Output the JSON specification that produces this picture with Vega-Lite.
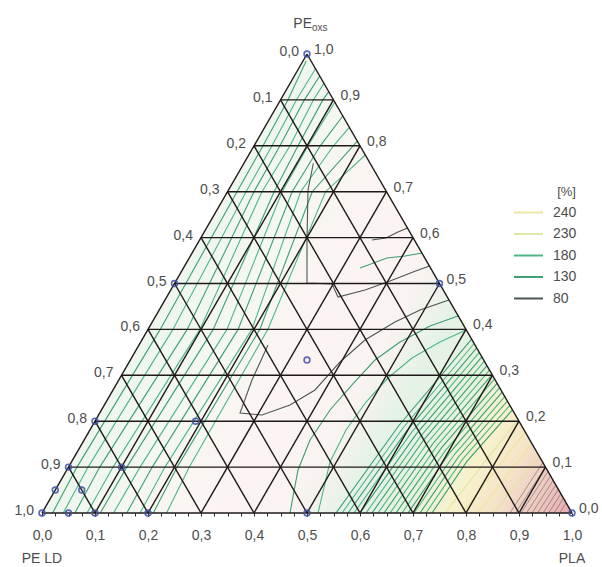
{
  "$schema": "https://vega.github.io/schema/vega-lite/v6.json",
  "width": 530,
  "height": 459,
  "autosize": {"type": "none"},
  "padding": {"left": 42, "top": 54, "right": 30, "bottom": 54},
  "background": "white",
  "config": {"view": {"stroke": null}, "font": "Liberation Sans"},
  "datasets": {
    "tri": [{"x": 0, "y": 0}, {"x": 0.5, "y": 1}, {"x": 1, "y": 0}],
    "grid": [
      {"x": 0, "y": 0, "x2": 1, "y2": 0},
      {"x": 0, "y": 0, "x2": 0.5, "y2": 1},
      {"x": 1, "y": 0, "x2": 0.5, "y2": 1},
      {"x": 0.05, "y": 0.1, "x2": 0.95, "y2": 0.1},
      {"x": 0.1, "y": 0.2, "x2": 0.9, "y2": 0.2},
      {"x": 0.15, "y": 0.3, "x2": 0.85, "y2": 0.3},
      {"x": 0.2, "y": 0.4, "x2": 0.8, "y2": 0.4},
      {"x": 0.25, "y": 0.5, "x2": 0.75, "y2": 0.5},
      {"x": 0.3, "y": 0.6, "x2": 0.7, "y2": 0.6},
      {"x": 0.35, "y": 0.7, "x2": 0.65, "y2": 0.7},
      {"x": 0.4, "y": 0.8, "x2": 0.6, "y2": 0.8},
      {"x": 0.45, "y": 0.9, "x2": 0.55, "y2": 0.9},
      {"x": 0.1, "y": 0, "x2": 0.55, "y2": 0.9},
      {"x": 0.2, "y": 0, "x2": 0.6, "y2": 0.8},
      {"x": 0.3, "y": 0, "x2": 0.65, "y2": 0.7},
      {"x": 0.4, "y": 0, "x2": 0.7, "y2": 0.6},
      {"x": 0.5, "y": 0, "x2": 0.75, "y2": 0.5},
      {"x": 0.6, "y": 0, "x2": 0.8, "y2": 0.4},
      {"x": 0.7, "y": 0, "x2": 0.85, "y2": 0.3},
      {"x": 0.8, "y": 0, "x2": 0.9, "y2": 0.2},
      {"x": 0.9, "y": 0, "x2": 0.95, "y2": 0.1},
      {"x": 0.1, "y": 0, "x2": 0.05, "y2": 0.1},
      {"x": 0.2, "y": 0, "x2": 0.1, "y2": 0.2},
      {"x": 0.3, "y": 0, "x2": 0.15, "y2": 0.3},
      {"x": 0.4, "y": 0, "x2": 0.2, "y2": 0.4},
      {"x": 0.5, "y": 0, "x2": 0.25, "y2": 0.5},
      {"x": 0.6, "y": 0, "x2": 0.3, "y2": 0.6},
      {"x": 0.7, "y": 0, "x2": 0.35, "y2": 0.7},
      {"x": 0.8, "y": 0, "x2": 0.4, "y2": 0.8},
      {"x": 0.9, "y": 0, "x2": 0.45, "y2": 0.9}
    ],
    "pts": [
      {"x": 0, "y": 0}, {"x": 0.05, "y": 0}, {"x": 0.1, "y": 0}, {"x": 0.2, "y": 0},
      {"x": 0.5, "y": 0}, {"x": 1, "y": 0}, {"x": 0.5, "y": 1}, {"x": 0.25, "y": 0.5},
      {"x": 0.75, "y": 0.5}, {"x": 0.05, "y": 0.1}, {"x": 0.025, "y": 0.05}, {"x": 0.075, "y": 0.05},
      {"x": 0.15, "y": 0.1}, {"x": 0.1, "y": 0.2}, {"x": 0.29, "y": 0.2}, {"x": 0.5, "y": 0.3333}
    ],
    "lblL": [
      {"t": "1,0", "x": 0, "y": 0}, {"t": "0,9", "x": 0.05, "y": 0.1}, {"t": "0,8", "x": 0.1, "y": 0.2},
      {"t": "0,7", "x": 0.15, "y": 0.3}, {"t": "0,6", "x": 0.2, "y": 0.4}, {"t": "0,5", "x": 0.25, "y": 0.5},
      {"t": "0,4", "x": 0.3, "y": 0.6}, {"t": "0,3", "x": 0.35, "y": 0.7}, {"t": "0,2", "x": 0.4, "y": 0.8},
      {"t": "0,1", "x": 0.45, "y": 0.9}, {"t": "0,0", "x": 0.5, "y": 1}
    ],
    "lblR": [
      {"t": "0,0", "x": 1, "y": 0}, {"t": "0,1", "x": 0.95, "y": 0.1}, {"t": "0,2", "x": 0.9, "y": 0.2},
      {"t": "0,3", "x": 0.85, "y": 0.3}, {"t": "0,4", "x": 0.8, "y": 0.4}, {"t": "0,5", "x": 0.75, "y": 0.5},
      {"t": "0,6", "x": 0.7, "y": 0.6}, {"t": "0,7", "x": 0.65, "y": 0.7}, {"t": "0,8", "x": 0.6, "y": 0.8},
      {"t": "0,9", "x": 0.55, "y": 0.9}, {"t": "1,0", "x": 0.5, "y": 1}
    ],
    "corner": [{"t": "PE LD", "x": 0, "y": 0}, {"t": "PLA", "x": 1, "y": 0}],
    "apexMain": [{"t": "PE", "x": 0.5, "y": 1}],
    "apexSub": [{"t": "oxs", "x": 0.5, "y": 1}],
    "iso": [
      {"c": "A1", "lv": "130", "o": 1, "x": 0.020, "y": 0},
      {"c": "A1", "lv": "130", "o": 2, "x": 0.066, "y": 0.1},
      {"c": "A1", "lv": "130", "o": 3, "x": 0.223, "y": 0.4},
      {"c": "A1", "lv": "130", "o": 4, "x": 0.368, "y": 0.7},
      {"c": "A1", "lv": "130", "o": 5, "x": 0.417, "y": 0.8},
      {"c": "A1", "lv": "130", "o": 6, "x": 0.464, "y": 0.9},
      {"c": "A1", "lv": "130", "o": 7, "x": 0.4985, "y": 0.985},
      {"c": "A2", "lv": "180", "o": 1, "x": 0.040, "y": 0},
      {"c": "A2", "lv": "180", "o": 2, "x": 0.087, "y": 0.1},
      {"c": "A2", "lv": "180", "o": 3, "x": 0.247, "y": 0.4},
      {"c": "A2", "lv": "180", "o": 4, "x": 0.385, "y": 0.7},
      {"c": "A2", "lv": "180", "o": 5, "x": 0.434, "y": 0.8},
      {"c": "A2", "lv": "180", "o": 6, "x": 0.480, "y": 0.9},
      {"c": "A2", "lv": "180", "o": 7, "x": 0.516, "y": 0.968},
      {"c": "A3", "lv": "130", "o": 1, "x": 0.062, "y": 0},
      {"c": "A3", "lv": "130", "o": 2, "x": 0.109, "y": 0.1},
      {"c": "A3", "lv": "130", "o": 3, "x": 0.274, "y": 0.4},
      {"c": "A3", "lv": "130", "o": 4, "x": 0.400, "y": 0.7},
      {"c": "A3", "lv": "130", "o": 5, "x": 0.449, "y": 0.8},
      {"c": "A3", "lv": "130", "o": 6, "x": 0.495, "y": 0.9},
      {"c": "A3", "lv": "130", "o": 7, "x": 0.524, "y": 0.952},
      {"c": "A4", "lv": "180", "o": 1, "x": 0.085, "y": 0},
      {"c": "A4", "lv": "180", "o": 2, "x": 0.134, "y": 0.1},
      {"c": "A4", "lv": "180", "o": 3, "x": 0.298, "y": 0.4},
      {"c": "A4", "lv": "180", "o": 4, "x": 0.415, "y": 0.7},
      {"c": "A4", "lv": "180", "o": 5, "x": 0.468, "y": 0.8},
      {"c": "A4", "lv": "180", "o": 6, "x": 0.512, "y": 0.9},
      {"c": "A4", "lv": "180", "o": 7, "x": 0.532, "y": 0.936},
      {"c": "A5", "lv": "130", "o": 1, "x": 0.110, "y": 0},
      {"c": "A5", "lv": "130", "o": 2, "x": 0.160, "y": 0.1},
      {"c": "A5", "lv": "130", "o": 3, "x": 0.323, "y": 0.4},
      {"c": "A5", "lv": "130", "o": 4, "x": 0.438, "y": 0.7},
      {"c": "A5", "lv": "130", "o": 5, "x": 0.483, "y": 0.8},
      {"c": "A5", "lv": "130", "o": 6, "x": 0.530, "y": 0.9},
      {"c": "A5", "lv": "130", "o": 7, "x": 0.541, "y": 0.918},
      {"c": "A6", "lv": "180", "o": 1, "x": 0.135, "y": 0},
      {"c": "A6", "lv": "180", "o": 2, "x": 0.185, "y": 0.1},
      {"c": "A6", "lv": "180", "o": 3, "x": 0.349, "y": 0.4},
      {"c": "A6", "lv": "180", "o": 4, "x": 0.453, "y": 0.7},
      {"c": "A6", "lv": "180", "o": 5, "x": 0.502, "y": 0.8},
      {"c": "A6", "lv": "180", "o": 6, "x": 0.5525, "y": 0.895},
      {"c": "A7", "lv": "130", "o": 1, "x": 0.160, "y": 0},
      {"c": "A7", "lv": "130", "o": 2, "x": 0.208, "y": 0.1},
      {"c": "A7", "lv": "130", "o": 3, "x": 0.370, "y": 0.4},
      {"c": "A7", "lv": "130", "o": 4, "x": 0.472, "y": 0.7},
      {"c": "A7", "lv": "130", "o": 5, "x": 0.525, "y": 0.8},
      {"c": "A7", "lv": "130", "o": 6, "x": 0.5675, "y": 0.865},
      {"c": "A8", "lv": "180", "o": 1, "x": 0.185, "y": 0},
      {"c": "A8", "lv": "180", "o": 2, "x": 0.232, "y": 0.1},
      {"c": "A8", "lv": "180", "o": 3, "x": 0.396, "y": 0.4},
      {"c": "A8", "lv": "180", "o": 4, "x": 0.488, "y": 0.7},
      {"c": "A8", "lv": "180", "o": 5, "x": 0.550, "y": 0.8},
      {"c": "A8", "lv": "180", "o": 6, "x": 0.580, "y": 0.84},
      {"c": "A9", "lv": "130", "o": 1, "x": 0.210, "y": 0},
      {"c": "A9", "lv": "130", "o": 2, "x": 0.255, "y": 0.1},
      {"c": "A9", "lv": "130", "o": 3, "x": 0.411, "y": 0.4},
      {"c": "A9", "lv": "130", "o": 4, "x": 0.510, "y": 0.7},
      {"c": "A9", "lv": "130", "o": 5, "x": 0.595, "y": 0.81},
      {"c": "A10", "lv": "180", "o": 1, "x": 0.235, "y": 0},
      {"c": "A10", "lv": "180", "o": 2, "x": 0.278, "y": 0.1},
      {"c": "A10", "lv": "180", "o": 3, "x": 0.426, "y": 0.4},
      {"c": "A10", "lv": "180", "o": 4, "x": 0.535, "y": 0.7},
      {"c": "A10", "lv": "180", "o": 5, "x": 0.610, "y": 0.78},
      {"c": "M1", "lv": "80", "o": 1, "x": 0.512, "y": 0.762},
      {"c": "M1", "lv": "80", "o": 2, "x": 0.5019, "y": 0.7037},
      {"c": "M1", "lv": "80", "o": 3, "x": 0.5, "y": 0.5948},
      {"c": "M1", "lv": "80", "o": 4, "x": 0.5, "y": 0.5011},
      {"c": "M1", "lv": "80", "o": 5, "x": 0.5472, "y": 0.4989},
      {"c": "M1", "lv": "80", "o": 6, "x": 0.5585, "y": 0.4706},
      {"c": "M1", "lv": "80", "o": 7, "x": 0.6094, "y": 0.4858},
      {"c": "M1", "lv": "80", "o": 8, "x": 0.6566, "y": 0.5054},
      {"c": "M1", "lv": "80", "o": 9, "x": 0.7000, "y": 0.5251},
      {"c": "M1", "lv": "80", "o": 10, "x": 0.7311, "y": 0.5381},
      {"c": "M2", "lv": "80", "o": 1, "x": 0.6226, "y": 0.5948},
      {"c": "M2", "lv": "80", "o": 2, "x": 0.6491, "y": 0.5991},
      {"c": "M2", "lv": "80", "o": 3, "x": 0.6717, "y": 0.6122},
      {"c": "M2", "lv": "80", "o": 4, "x": 0.6898, "y": 0.6209},
      {"c": "M3", "lv": "130", "o": 1, "x": 0.6, "y": 0.5338},
      {"c": "M3", "lv": "130", "o": 2, "x": 0.6509, "y": 0.5556},
      {"c": "M3", "lv": "130", "o": 3, "x": 0.6849, "y": 0.5599},
      {"c": "M3", "lv": "130", "o": 4, "x": 0.7170, "y": 0.5664},
      {"c": "C0", "lv": "80", "o": 1, "x": 0.7679, "y": 0.4641},
      {"c": "C0", "lv": "80", "o": 2, "x": 0.7132, "y": 0.4423},
      {"c": "C0", "lv": "80", "o": 3, "x": 0.6660, "y": 0.4161},
      {"c": "C0", "lv": "80", "o": 4, "x": 0.6094, "y": 0.3769},
      {"c": "C0", "lv": "80", "o": 5, "x": 0.5623, "y": 0.3290},
      {"c": "C0", "lv": "80", "o": 6, "x": 0.5151, "y": 0.2680},
      {"c": "C0", "lv": "80", "o": 7, "x": 0.4679, "y": 0.2353},
      {"c": "C0", "lv": "80", "o": 8, "x": 0.4151, "y": 0.2135},
      {"c": "C0", "lv": "80", "o": 9, "x": 0.3736, "y": 0.2179},
      {"c": "C0", "lv": "80", "o": 10, "x": 0.3962, "y": 0.2898},
      {"c": "C0", "lv": "80", "o": 11, "x": 0.4264, "y": 0.3660},
      {"c": "C1", "lv": "130", "o": 1, "x": 0.7849, "y": 0.4292},
      {"c": "C1", "lv": "130", "o": 2, "x": 0.7321, "y": 0.4074},
      {"c": "C1", "lv": "130", "o": 3, "x": 0.6755, "y": 0.3725},
      {"c": "C1", "lv": "130", "o": 4, "x": 0.6283, "y": 0.3333},
      {"c": "C1", "lv": "130", "o": 5, "x": 0.5849, "y": 0.2789},
      {"c": "C1", "lv": "130", "o": 6, "x": 0.5434, "y": 0.2244},
      {"c": "C1", "lv": "130", "o": 7, "x": 0.5057, "y": 0.1590},
      {"c": "C1", "lv": "130", "o": 8, "x": 0.4830, "y": 0.0937},
      {"c": "C1", "lv": "130", "o": 9, "x": 0.4679, "y": 0},
      {"c": "C2", "lv": "180", "o": 1, "x": 0.8000, "y": 0.3987},
      {"c": "C2", "lv": "180", "o": 2, "x": 0.7509, "y": 0.3725},
      {"c": "C2", "lv": "180", "o": 3, "x": 0.6981, "y": 0.3377},
      {"c": "C2", "lv": "180", "o": 4, "x": 0.6528, "y": 0.2941},
      {"c": "C2", "lv": "180", "o": 5, "x": 0.6113, "y": 0.2418},
      {"c": "C2", "lv": "180", "o": 6, "x": 0.5736, "y": 0.1808},
      {"c": "C2", "lv": "180", "o": 7, "x": 0.5434, "y": 0.1111},
      {"c": "C2", "lv": "180", "o": 8, "x": 0.5208, "y": 0},
      {"c": "B0", "lv": "130", "o": 1, "x": 0.5547, "y": 0},
      {"c": "B0", "lv": "130", "o": 2, "x": 0.6727, "y": 0.1895},
      {"c": "B0", "lv": "130", "o": 3, "x": 0.8106, "y": 0.3789},
      {"c": "B1", "lv": "180", "o": 1, "x": 0.5660, "y": 0},
      {"c": "B1", "lv": "180", "o": 2, "x": 0.6807, "y": 0.1847},
      {"c": "B1", "lv": "180", "o": 3, "x": 0.8154, "y": 0.3693},
      {"c": "B2", "lv": "130", "o": 1, "x": 0.5774, "y": 0},
      {"c": "B2", "lv": "130", "o": 2, "x": 0.6888, "y": 0.1799},
      {"c": "B2", "lv": "130", "o": 3, "x": 0.8202, "y": 0.3597},
      {"c": "B3", "lv": "180", "o": 1, "x": 0.5887, "y": 0},
      {"c": "B3", "lv": "180", "o": 2, "x": 0.6969, "y": 0.1750},
      {"c": "B3", "lv": "180", "o": 3, "x": 0.8251, "y": 0.3499},
      {"c": "B4", "lv": "130", "o": 1, "x": 0.6000, "y": 0},
      {"c": "B4", "lv": "130", "o": 2, "x": 0.7050, "y": 0.1702},
      {"c": "B4", "lv": "130", "o": 3, "x": 0.8299, "y": 0.3403},
      {"c": "B5", "lv": "180", "o": 1, "x": 0.6113, "y": 0},
      {"c": "B5", "lv": "180", "o": 2, "x": 0.7130, "y": 0.1654},
      {"c": "B5", "lv": "180", "o": 3, "x": 0.8347, "y": 0.3307},
      {"c": "B6", "lv": "130", "o": 1, "x": 0.6226, "y": 0},
      {"c": "B6", "lv": "130", "o": 2, "x": 0.7211, "y": 0.1606},
      {"c": "B6", "lv": "130", "o": 3, "x": 0.8395, "y": 0.3211},
      {"c": "B7", "lv": "180", "o": 1, "x": 0.6340, "y": 0},
      {"c": "B7", "lv": "180", "o": 2, "x": 0.7292, "y": 0.1558},
      {"c": "B7", "lv": "180", "o": 3, "x": 0.8443, "y": 0.3115},
      {"c": "B8", "lv": "130", "o": 1, "x": 0.6453, "y": 0},
      {"c": "B8", "lv": "130", "o": 2, "x": 0.7373, "y": 0.1509},
      {"c": "B8", "lv": "130", "o": 3, "x": 0.8492, "y": 0.3017},
      {"c": "B9", "lv": "180", "o": 1, "x": 0.6566, "y": 0},
      {"c": "B9", "lv": "180", "o": 2, "x": 0.7453, "y": 0.1461},
      {"c": "B9", "lv": "180", "o": 3, "x": 0.8539, "y": 0.2922},
      {"c": "B10", "lv": "130", "o": 1, "x": 0.6679, "y": 0},
      {"c": "B10", "lv": "130", "o": 2, "x": 0.7533, "y": 0.1413},
      {"c": "B10", "lv": "130", "o": 3, "x": 0.8587, "y": 0.2826},
      {"c": "B11", "lv": "180", "o": 1, "x": 0.6792, "y": 0},
      {"c": "B11", "lv": "180", "o": 2, "x": 0.7614, "y": 0.1365},
      {"c": "B11", "lv": "180", "o": 3, "x": 0.8635, "y": 0.2730},
      {"c": "B12", "lv": "130", "o": 1, "x": 0.6906, "y": 0},
      {"c": "B12", "lv": "130", "o": 2, "x": 0.7695, "y": 0.1317},
      {"c": "B12", "lv": "130", "o": 3, "x": 0.8683, "y": 0.2634},
      {"c": "B13", "lv": "180", "o": 1, "x": 0.7019, "y": 0},
      {"c": "B13", "lv": "180", "o": 2, "x": 0.7776, "y": 0.1268},
      {"c": "B13", "lv": "180", "o": 3, "x": 0.8732, "y": 0.2536},
      {"c": "B14", "lv": "130", "o": 1, "x": 0.7132, "y": 0},
      {"c": "B14", "lv": "130", "o": 2, "x": 0.7856, "y": 0.1220},
      {"c": "B14", "lv": "130", "o": 3, "x": 0.8780, "y": 0.2440},
      {"c": "B15", "lv": "180", "o": 1, "x": 0.7245, "y": 0},
      {"c": "B15", "lv": "180", "o": 2, "x": 0.7937, "y": 0.1172},
      {"c": "B15", "lv": "180", "o": 3, "x": 0.8828, "y": 0.2344},
      {"c": "B16", "lv": "130", "o": 1, "x": 0.7358, "y": 0},
      {"c": "B16", "lv": "130", "o": 2, "x": 0.8017, "y": 0.1124},
      {"c": "B16", "lv": "130", "o": 3, "x": 0.8876, "y": 0.2248},
      {"c": "Y1", "lv": "230", "o": 1, "x": 0.7604, "y": 0},
      {"c": "Y1", "lv": "230", "o": 2, "x": 0.8980, "y": 0.2039},
      {"c": "Y2", "lv": "240", "o": 1, "x": 0.7925, "y": 0},
      {"c": "Y2", "lv": "240", "o": 2, "x": 0.9117, "y": 0.1767},
      {"c": "Y3", "lv": "240", "o": 1, "x": 0.8226, "y": 0},
      {"c": "Y3", "lv": "240", "o": 2, "x": 0.9245, "y": 0.1510},
      {"c": "Y4", "lv": "230", "o": 1, "x": 0.8528, "y": 0},
      {"c": "Y4", "lv": "230", "o": 2, "x": 0.9374, "y": 0.1253},
      {"c": "R0", "lv": "80", "o": 1, "x": 0.8830, "y": 0},
      {"c": "R0", "lv": "80", "o": 2, "x": 0.9450, "y": 0.1100},
      {"c": "R1", "lv": "80", "o": 1, "x": 0.8934, "y": 0},
      {"c": "R1", "lv": "80", "o": 2, "x": 0.9499, "y": 0.1002},
      {"c": "R2", "lv": "80", "o": 1, "x": 0.9038, "y": 0},
      {"c": "R2", "lv": "80", "o": 2, "x": 0.9547, "y": 0.0906},
      {"c": "R3", "lv": "80", "o": 1, "x": 0.9142, "y": 0},
      {"c": "R3", "lv": "80", "o": 2, "x": 0.9596, "y": 0.0808},
      {"c": "R4", "lv": "80", "o": 1, "x": 0.9245, "y": 0},
      {"c": "R4", "lv": "80", "o": 2, "x": 0.9645, "y": 0.0710},
      {"c": "R5", "lv": "80", "o": 1, "x": 0.9349, "y": 0},
      {"c": "R5", "lv": "80", "o": 2, "x": 0.9694, "y": 0.0612},
      {"c": "R6", "lv": "80", "o": 1, "x": 0.9453, "y": 0},
      {"c": "R6", "lv": "80", "o": 2, "x": 0.9743, "y": 0.0514},
      {"c": "R7", "lv": "80", "o": 1, "x": 0.9557, "y": 0},
      {"c": "R7", "lv": "80", "o": 2, "x": 0.9791, "y": 0.0418},
      {"c": "R8", "lv": "80", "o": 1, "x": 0.9660, "y": 0},
      {"c": "R8", "lv": "80", "o": 2, "x": 0.9840, "y": 0.0320},
      {"c": "R9", "lv": "80", "o": 1, "x": 0.9764, "y": 0},
      {"c": "R9", "lv": "80", "o": 2, "x": 0.9889, "y": 0.0222}
    ]
  },
  "encoding": {
    "x": {
      "field": "x",
      "type": "quantitative",
      "scale": {"domain": [0, 1], "nice": false, "zero": false},
      "axis": {
        "title": null,
        "domain": false,
        "grid": false,
        "values": [0, 0.025, 0.05, 0.075, 0.1, 0.125, 0.15, 0.175, 0.2, 0.225, 0.25, 0.275, 0.3, 0.325, 0.35, 0.375, 0.4, 0.425, 0.45, 0.475, 0.5, 0.525, 0.55, 0.575, 0.6, 0.625, 0.65, 0.675, 0.7, 0.725, 0.75, 0.775, 0.8, 0.825, 0.85, 0.875, 0.9, 0.925, 0.95, 0.975, 1],
        "labelExpr": "abs(datum.value * 10 - round(datum.value * 10)) < 0.001 ? replace(format(datum.value, '.1f'), '.', ',') : ''",
        "tickSize": 3,
        "tickColor": "#2a2a2a",
        "tickWidth": 1,
        "labelFont": "Liberation Sans",
        "labelFontSize": 14,
        "labelColor": "#4d4d4d",
        "labelPadding": 12,
        "labelFlush": false,
        "labelOverlap": false
      }
    },
    "y": {
      "field": "y",
      "type": "quantitative",
      "scale": {"domain": [0, 1], "nice": false, "zero": false},
      "axis": null
    }
  },
  "layer": [
    {
      "data": {"name": "tri"},
      "mark": {
        "type": "area",
        "color": {
          "gradient": "linear",
          "x1": 0, "y1": 0.5, "x2": 1, "y2": 0.97,
          "stops": [
            {"offset": 0, "color": "#eef6ee"},
            {"offset": 0.2, "color": "#eef6ee"},
            {"offset": 0.33, "color": "#f6f7f1"},
            {"offset": 0.45, "color": "#fcf4f3"},
            {"offset": 0.58, "color": "#f9f3f1"},
            {"offset": 0.66, "color": "#e4f2e6"},
            {"offset": 0.76, "color": "#e8f2dd"},
            {"offset": 0.82, "color": "#f7f2cc"},
            {"offset": 0.88, "color": "#f5e5c8"},
            {"offset": 0.93, "color": "#f0d0c6"},
            {"offset": 1, "color": "#e8b0b2"}
          ]
        }
      },
      "encoding": {"y2": {"datum": 0}}
    },
    {
      "data": {"name": "iso"},
      "transform": [{"filter": "indexof(datum.c, 'R') != 0"}],
      "mark": {"type": "line", "strokeWidth": 1.1, "opacity": 0.9},
      "encoding": {
        "detail": {"field": "c", "type": "nominal"},
        "order": {"field": "o", "type": "quantitative"},
        "color": {
          "field": "lv",
          "type": "nominal",
          "scale": {
            "domain": ["240", "230", "180", "130", "80"],
            "range": ["#efe39a", "#dde6a0", "#3db07a", "#2a9566", "#3b4640"]
          },
          "legend": {
            "title": "[%]",
            "orient": "none",
            "legendX": 471,
            "legendY": 132,
            "titleAnchor": "end",
            "titleFont": "Liberation Sans",
            "titleFontSize": 13,
            "titleFontWeight": "normal",
            "titleColor": "#4d4d4d",
            "titlePadding": 3,
            "symbolType": "stroke",
            "symbolSize": 841,
            "symbolStrokeWidth": 2,
            "clipHeight": 21,
            "rowPadding": 0.5,
            "labelOffset": 9,
            "labelFont": "Liberation Sans",
            "labelFontSize": 14,
            "labelColor": "#4d4d4d",
            "padding": 0
          }
        }
      }
    },
    {
      "data": {"name": "iso"},
      "transform": [{"filter": "indexof(datum.c, 'R') == 0"}],
      "mark": {"type": "line", "strokeWidth": 0.8, "opacity": 0.55},
      "encoding": {
        "detail": {"field": "c", "type": "nominal"},
        "order": {"field": "o", "type": "quantitative"},
        "color": {"field": "lv", "type": "nominal"}
      }
    },
    {
      "data": {"name": "grid"},
      "mark": {"type": "rule", "color": "#1f1818", "strokeWidth": 1.4},
      "encoding": {
        "x2": {"field": "x2"},
        "y2": {"field": "y2"}
      }
    },
    {
      "data": {"name": "pts"},
      "mark": {"type": "point", "shape": "circle", "filled": false, "size": 34, "strokeWidth": 1.6, "color": "#3f4fa6", "opacity": 0.85}
    },
    {
      "data": {"name": "lblL"},
      "mark": {"type": "text", "align": "right", "baseline": "middle", "dx": -8, "dy": -2, "fontSize": 14, "font": "Liberation Sans", "color": "#4d4d4d"},
      "encoding": {"text": {"field": "t"}}
    },
    {
      "data": {"name": "lblR"},
      "mark": {"type": "text", "align": "left", "baseline": "middle", "dx": 7, "dy": -4, "fontSize": 14, "font": "Liberation Sans", "color": "#4d4d4d"},
      "encoding": {"text": {"field": "t"}}
    },
    {
      "data": {"name": "corner"},
      "mark": {"type": "text", "align": "center", "baseline": "middle", "dy": 46, "fontSize": 14, "font": "Liberation Sans", "color": "#4d4d4d"},
      "encoding": {"text": {"field": "t"}}
    },
    {
      "data": {"name": "apexMain"},
      "mark": {"type": "text", "align": "right", "baseline": "middle", "dx": 5, "dy": -30, "fontSize": 14, "font": "Liberation Sans", "color": "#4d4d4d"},
      "encoding": {"text": {"field": "t"}}
    },
    {
      "data": {"name": "apexSub"},
      "mark": {"type": "text", "align": "left", "baseline": "middle", "dx": 5, "dy": -26, "fontSize": 10, "font": "Liberation Sans", "color": "#4d4d4d"},
      "encoding": {"text": {"field": "t"}}
    }
  ]
}
